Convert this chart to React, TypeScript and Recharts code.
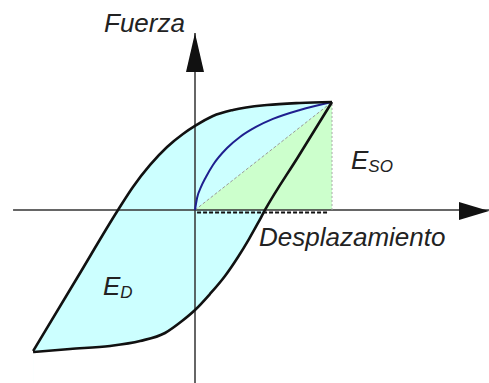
import { ComposedChart, Area, Line, XAxis, YAxis } from 'recharts';

// coordinates in normalised units: displacement / force relative to the peak point (1, 1)
const upperX = [-1.182, -0.861, -0.562, -0.453, -0.328, -0.204, -0.088, 0, 0.131, 0.277, 0.526, 0.766, 1];
const upperY = [-1.306, -0.63, 0, 0.213, 0.417, 0.583, 0.704, 0.778, 0.87, 0.926, 0.972, 0.991, 1];

const lowerX = [-1.182, -0.912, -0.62, -0.401, -0.219, -0.095, 0, 0.109, 0.219, 0.314, 0.394, 0.46, 0.511, 0.752, 1];
const lowerY = [-1.315, -1.287, -1.259, -1.213, -1.139, -1.028, -0.926, -0.778, -0.611, -0.435, -0.269, -0.12, 0, 0.491, 1];

const virginX = [0, 0.015, 0.044, 0.08, 0.131, 0.234, 0.328, 0.445, 0.569, 0.766, 1];
const virginY = [0, 0.111, 0.213, 0.306, 0.417, 0.574, 0.676, 0.769, 0.843, 0.926, 1];

const peak = { x: 1, y: 1 };
const origin = { x: 0, y: 0 };

const xDomain = [-1.4234, 2.146];
const yDomain = [-1.6019, 1.9444];

const W = 489;
const H = 383;

const zip = (xs: number[], ys: number[]) => xs.map((x, i) => ({ x, y: ys[i] }));

const upperData = zip(upperX, upperY);
const lowerData = zip(lowerX, lowerY);
const virginData = zip(virginX, virginY);
const triangleData = [origin, peak];
const secantData = [origin, peak];
const dropData = [{ x: peak.x, y: 0 }, peak];
const baseData = [{ x: 0.015, y: -0.023 }, { x: 0.964, y: -0.023 }];
const xAxisData = [{ x: -1.328, y: 0 }, { x: 2.146, y: 0 }];
const yAxisData = [{ x: 0, y: -1.602 }, { x: 0, y: 1.639 }];

const UpArrow = (props: any) => {
  const { cx, cy, index } = props;
  if (index !== 1) return <g key={index} />;
  return <polygon key={index} points={`${cx},${cy} ${cx - 9},${cy + 39} ${cx + 9},${cy + 39}`} fill="#111" />;
};

const RightArrow = (props: any) => {
  const { cx, cy, index } = props;
  if (index !== 1) return <g key={index} />;
  return <polygon key={index} points={`${cx},${cy + 1} ${cx - 30},${cy - 8} ${cx - 30},${cy + 10}`} fill="#111" />;
};

const font = '"Liberation Sans", Arial, sans-serif';

export default function App() {
  return (
    <div style={{ position: 'absolute', left: 0, top: 0, width: W, height: H, background: '#fff' }}>
      <ComposedChart width={W} height={H} margin={{ top: 0, right: 0, bottom: 0, left: 0 }}>
        <XAxis type="number" dataKey="x" domain={xDomain} allowDataOverflow hide />
        <YAxis type="number" dataKey="y" domain={yDomain} allowDataOverflow hide />

        <Area data={upperData} dataKey="y" type="monotone" baseValue="dataMin" fill="#ccffff" fillOpacity={1} stroke="none" isAnimationActive={false} />
        <Area data={lowerData} dataKey="y" type="monotone" baseValue="dataMin" fill="#ffffff" fillOpacity={1} stroke="none" isAnimationActive={false} />
        <Area data={triangleData} dataKey="y" type="linear" baseValue={0} fill="#ccffcc" fillOpacity={1} stroke="none" isAnimationActive={false} />

        <Line data={xAxisData} dataKey="y" type="linear" stroke="#333" strokeWidth={1.5} dot={RightArrow} activeDot={false} isAnimationActive={false} />
        <Line data={yAxisData} dataKey="y" type="linear" stroke="#333" strokeWidth={1.5} dot={UpArrow} activeDot={false} isAnimationActive={false} />

        <Line data={secantData} dataKey="y" type="linear" stroke="#999" strokeWidth={1} strokeDasharray="3 2" dot={false} activeDot={false} isAnimationActive={false} />
        <Line data={dropData} dataKey="y" type="linear" stroke="#aaa" strokeWidth={1} strokeDasharray="2 2" dot={false} activeDot={false} isAnimationActive={false} />
        <Line data={baseData} dataKey="y" type="linear" stroke="#111" strokeWidth={2} strokeDasharray="4 2" dot={false} activeDot={false} isAnimationActive={false} />

        <Line data={virginData} dataKey="y" type="monotone" stroke="#1f1f8f" strokeWidth={2} dot={false} activeDot={false} isAnimationActive={false} />
        <Line data={upperData} dataKey="y" type="monotone" stroke="#111" strokeWidth={2.6} dot={false} activeDot={false} isAnimationActive={false} />
        <Line data={lowerData} dataKey="y" type="monotone" stroke="#111" strokeWidth={2.6} dot={false} activeDot={false} isAnimationActive={false} />
      </ComposedChart>

      <svg width={W} height={H} style={{ position: 'absolute', left: 0, top: 0, pointerEvents: 'none' }}>
        <g fontFamily={font} fontStyle="italic" fill="#222">
          <text x={104} y={32} fontSize={26}>Fuerza</text>
          <text x={259} y={246} fontSize={26}>Desplazamiento</text>
          <text x={351} y={169} fontSize={26}>
            E<tspan fontSize={17} dy={3}>SO</tspan>
          </text>
          <text x={103} y={295} fontSize={26}>
            E<tspan fontSize={17} dy={3}>D</tspan>
          </text>
        </g>
      </svg>
    </div>
  );
}
